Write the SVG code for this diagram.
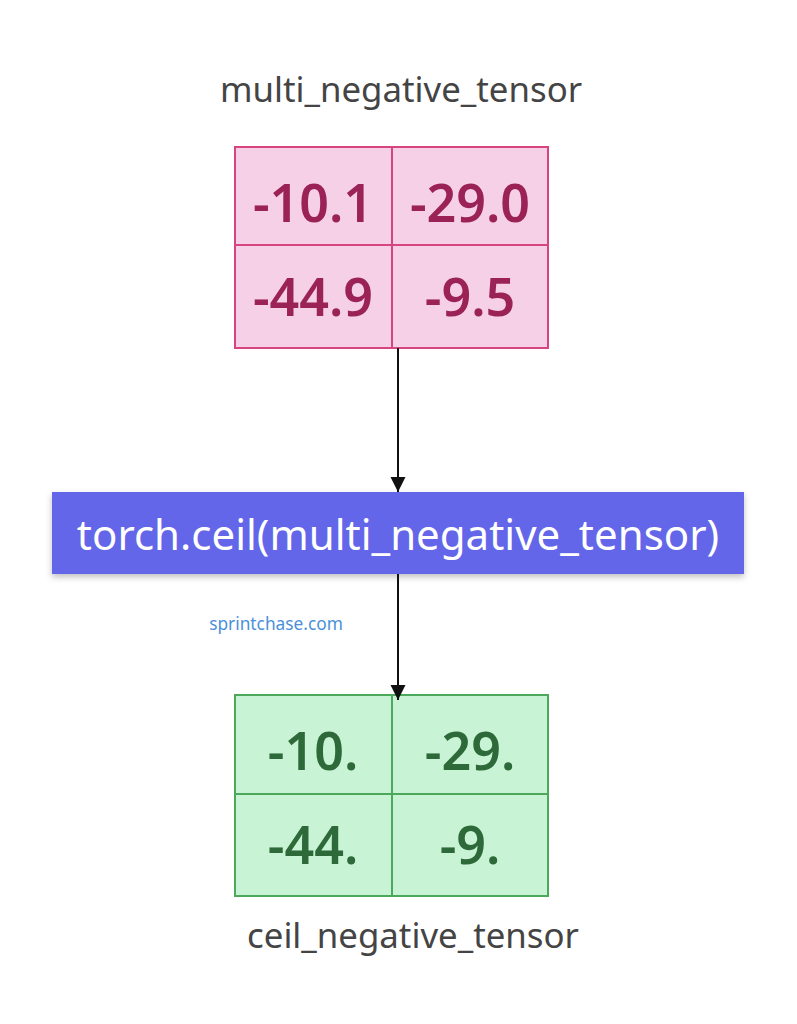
<svg xmlns="http://www.w3.org/2000/svg" width="797" height="1024" viewBox="0 0 797 1024">
<style>
.lbl{font-family:"Noto Sans","Open Sans",sans-serif;font-size:34.8px;fill:#444;text-anchor:middle}
.pc{fill:#F5D0E6;stroke:#D6457F;stroke-width:2}
.pt{font-family:"Noto Sans","Open Sans",sans-serif;font-size:52px;font-weight:600;fill:#9B2257;text-anchor:middle}
.gc{fill:#C8F3D4;stroke:#4CA85A;stroke-width:2}
.gt{font-family:"Noto Sans","Open Sans",sans-serif;font-size:52px;font-weight:600;fill:#2E6A39;text-anchor:middle}
.conn{stroke:#111;stroke-width:2;fill:none}
</style>
<defs>
<marker id="ah" viewBox="0 0 10 10" refX="10" refY="5" markerWidth="15" markerHeight="16" markerUnits="userSpaceOnUse" orient="auto"><path d="M0,0 L10,5 L0,10 z" fill="#111"/></marker>
<filter id="sh" x="-5%" y="-20%" width="110%" height="150%"><feDropShadow dx="0" dy="3" stdDeviation="3" flood-color="#000" flood-opacity="0.25"/></filter>
</defs>
<rect width="797" height="1024" fill="#fff"/>
<g id="input">
<text class="lbl" x="401" y="102">multi_negative_tensor</text>
<rect class="pc" x="235" y="147" width="157" height="98"/>
<rect class="pc" x="392" y="147" width="156" height="98"/>
<rect class="pc" x="235" y="245" width="157" height="103"/>
<rect class="pc" x="392" y="245" width="156" height="103"/>
<text class="pt" x="313" y="222">-10.1</text>
<text class="pt" x="470" y="222">-29.0</text>
<text class="pt" x="313" y="316">-44.9</text>
<text class="pt" x="470" y="316">-9.5</text>
</g>
<g id="op">
<rect x="52" y="492" width="692" height="82" fill="#6466E9" filter="url(#sh)"/>
<text x="398" y="550" font-family="Noto Sans, Open Sans, sans-serif" font-size="42" fill="#fff" text-anchor="middle">torch.ceil(multi_negative_tensor)</text>
</g>
<g id="output">
<rect class="gc" x="235" y="695" width="157" height="99"/>
<rect class="gc" x="392" y="695" width="156" height="99"/>
<rect class="gc" x="235" y="794" width="157" height="102"/>
<rect class="gc" x="392" y="794" width="156" height="102"/>
<text class="gt" x="313" y="770">-10.</text>
<text class="gt" x="470" y="770">-29.</text>
<text class="gt" x="313" y="864">-44.</text>
<text class="gt" x="470" y="864">-9.</text>
<text class="lbl" x="413" y="948">ceil_negative_tensor</text>
</g>
<g id="watermark">
<text x="276" y="630" font-family="Noto Sans, Open Sans, sans-serif" font-size="17.3" fill="#4A90D9" text-anchor="middle">sprintchase.com</text>
</g>
<g id="connectors">
<line class="conn" x1="398" y1="348" x2="398" y2="492" marker-end="url(#ah)"/>
<line class="conn" x1="398" y1="574" x2="398" y2="700" marker-end="url(#ah)"/>
</g>
</svg>
